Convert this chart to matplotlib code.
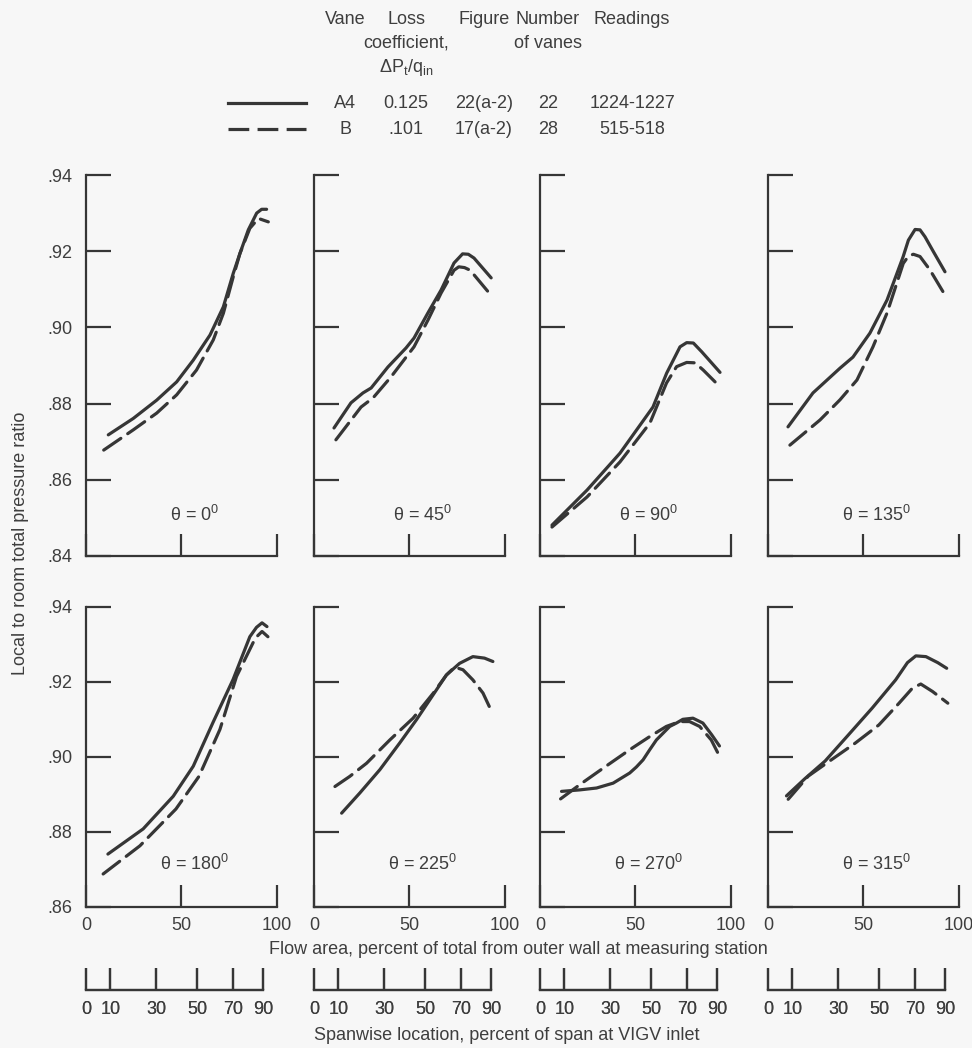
import matplotlib
matplotlib.use('Agg')
import matplotlib.pyplot as plt
from matplotlib.lines import Line2D

FONT = ['Liberation Sans Narrow', 'Liberation Sans', 'DejaVu Sans']
plt.rcParams['font.family'] = FONT
plt.rcParams['mathtext.default'] = 'regular'

INK = '#363636'
TXT = '#3e3e3e'
BG = '#f7f7f7'

# ---------------- data ----------------
angles = ['0', '45', '90', '135', '180', '225', '270', '315']

a4_x = [
    [11.7, 24.8, 37.1, 47.6, 56.3, 65.1, 72.1, 77.3, 80.8, 85.2, 89.6, 92.2, 94.8],
    [10.5, 19.4, 25.7, 30.0, 38.8, 48.3, 52.5, 59.8, 66.7, 73.5, 78.0, 81.0, 84.0, 93.0],
    [6.3, 24.7, 42.0, 59.3, 66.5, 73.5, 77.0, 80.5, 84.9, 94.5],
    [10.5, 23.6, 37.8, 44.6, 53.5, 62.5, 70.9, 73.7, 77.2, 79.8, 82.4, 86.8, 92.9],
    [11.5, 30.0, 45.8, 56.3, 66.7, 77.2, 86.0, 89.5, 92.4, 95.0],
    [14.5, 24.1, 34.6, 45.0, 53.8, 62.5, 69.5, 76.4, 83.4, 89.5, 93.9],
    [11.3, 20.9, 29.7, 38.4, 47.1, 50.6, 54.1, 57.6, 61.1, 64.6, 68.1, 71.6, 75.0,
     80.3, 85.5, 90.1, 94.2],
    [9.7, 19.4, 30.0, 42.3, 54.7, 67.0, 73.2, 77.6, 82.9, 89.1, 93.8],
]
a4_y = [
    [.8718, .8761, .8809, .8857, .8914, .8980, .9054, .9142, .9194, .9256, .9300, .9310, .9310],
    [.8736, .8802, .8828, .8841, .8896, .8946, .8972, .9038, .9098, .9169, .9193, .9192, .9182, .9130],
    [.8481, .8573, .8670, .8791, .8880, .8949, .8960, .8959, .8936, .8882],
    [.8739, .8828, .8893, .8922, .8985, .9072, .9185, .9229, .9257, .9256, .9238, .9199, .9146],
    [.8741, .8808, .8895, .8975, .9092, .9206, .9320, .9345, .9357, .9347],
    [.8850, .8904, .8966, .9037, .9099, .9165, .9218, .9249, .9267, .9263, .9254],
    [.8908, .8912, .8917, .8930, .8957, .8973, .8992, .9019, .9045, .9063, .9081, .9090, .9100,
     .9103, .9090, .9059, .9029],
    [.8896, .8942, .8989, .9059, .9130, .9205, .9251, .9269, .9267, .9251, .9236],
]
b_x = [
    [9.3, 24.8, 37.1, 47.6, 58.0, 66.8, 72.1, 77.3, 80.8, 86.0, 90.5, 95.7],
    [11.5, 24.7, 31.0, 40.4, 52.5, 59.8, 66.7, 73.5, 76.0, 79.0, 82.0, 92.0],
    [6.3, 24.7, 42.0, 57.7, 66.4, 71.7, 77.0, 81.4, 85.7, 91.9],
    [11.5, 27.3, 37.8, 46.7, 55.1, 62.5, 71.0, 73.7, 76.3, 79.8, 85.0, 92.9],
    [9.0, 28.3, 47.2, 59.3, 70.3, 79.0, 87.7, 90.0, 92.4, 95.5],
    [11.0, 18.8, 27.6, 39.8, 52.0, 62.5, 69.5, 73.8, 78.2, 83.4, 88.7, 93.5],
    [10.8, 20.9, 33.2, 47.1, 57.6, 66.3, 73.3, 78.5, 83.8, 89.9, 93.4],
    [10.6, 21.2, 33.5, 45.9, 58.2, 68.8, 75.8, 80.2, 86.4, 94.4],
]
b_y = [
    [.8678, .8731, .8775, .8823, .8888, .8967, .9037, .9133, .9194, .9260, .9286, .9277],
    [.8705, .8791, .8815, .8870, .8949, .9019, .9090, .9150, .9159, .9157, .9150, .9090],
    [.8476, .8555, .8647, .8749, .8854, .8897, .8908, .8907, .8888, .8857],
    [.8691, .8757, .8810, .8862, .8949, .9038, .9168, .9187, .9192, .9186, .9151, .9085],
    [.8688, .8763, .8861, .8948, .9073, .9214, .9304, .9322, .9334, .9320],
    [.8921, .8948, .8983, .9045, .9103, .9169, .9218, .9239, .9232, .9205, .9170, .9118],
    [.8888, .8926, .8970, .9019, .9054, .9081, .9094, .9094, .9081, .9045, .9010],
    [.8887, .8949, .8993, .9037, .9085, .9143, .9183, .9194, .9174, .9143],
]

top_yticks = [.84, .86, .88, .90, .92, .94]
bot_yticks = [.86, .88, .90, .92, .94]
ytick_labels_top = ['.84', '.86', '.88', '.90', '.92', '.94']
ytick_labels_bot = ['.86', '.88', '.90', '.92', '.94']
flow_ticks = [0, 50, 100]
flow_tick_labels = ['0', '50', '100']

span_labels = ['0', '10', '30', '50', '70', '90']
span_as_flow = [0, 12.7, 37.0, 58.5, 77.3, 93.1]

legend_vane = ['A4', 'B']
legend_loss = ['0.125', '.101']
legend_figure = ['22(a-2)', '17(a-2)']
legend_number = ['22', '28']
legend_readings = ['1224-1227', '515-518']

# ---------------- figure ----------------
W, H = 972, 1048
fig = plt.figure(figsize=(W / 100, H / 100), dpi=100, facecolor=BG)

def fx(px):
    return px / W

def fy(py):
    return 1 - py / H

lefts = [86, 314, 540, 768]
pw = 190.5
rows = [(175, 556, (.84, .94), top_yticks, ytick_labels_top),
        (606.7, 907, (.86, .94), bot_yticks, ytick_labels_bot)]

FS = 13
LW = 2.3
SP = 1.6
DASH = (0, (6.5, 2.6))

for i in range(8):
    r, c = divmod(i, 4)
    top, bot, ylim, yt, ytl = rows[r]
    ax = fig.add_axes([fx(lefts[c]), fy(bot), fx(pw), (bot - top) / H])
    ax.set_facecolor('none')
    ax.set_xlim(0, 100)
    ax.set_ylim(*ylim)
    for s in ['top', 'right']:
        ax.spines[s].set_visible(False)
    for s in ['left', 'bottom']:
        ax.spines[s].set_linewidth(SP)
        ax.spines[s].set_color(INK)
    ax.set_yticks(yt)
    if c == 0:
        ax.set_yticklabels(ytl)
    else:
        ax.set_yticklabels([])
    ax.set_xticks(flow_ticks)
    if r == 1:
        ax.set_xticklabels(flow_tick_labels)
    else:
        ax.set_xticklabels([])
    ax.tick_params(axis='y', direction='in', length=18, width=SP, color=INK,
                   pad=10, labelsize=FS, labelcolor=TXT)
    ax.tick_params(axis='x', direction='in', length=16, width=SP, color=INK,
                   pad=7, labelsize=FS, labelcolor=TXT)
    ax.plot(a4_x[i], a4_y[i], color=INK, lw=LW, solid_capstyle='round',
            solid_joinstyle='round')
    ax.plot(b_x[i], b_y[i], color=INK, lw=LW, linestyle=DASH,
            dash_capstyle='round', dash_joinstyle='round')
    ty = 0.8508 if r == 0 else 0.8715
    ax.text(57, ty, r'$\theta$ = ' + angles[i] + r'$^{0}$', ha='center',
            va='center', fontsize=FS, color=TXT)

    # secondary spanwise scale
    sx = fig.add_axes([fx(lefts[c]), fy(990), fx(pw), 0.01])
    sx.set_facecolor('none')
    sx.set_xlim(0, 100)
    sx.set_ylim(0, 1)
    for s in ['top', 'right', 'left']:
        sx.spines[s].set_visible(False)
    sx.spines['bottom'].set_bounds(span_as_flow[0], span_as_flow[-1])
    sx.spines['bottom'].set_linewidth(SP)
    sx.spines['bottom'].set_color(INK)
    sx.set_yticks([])
    sx.set_xticks(span_as_flow)
    sx.set_xticklabels(span_labels)
    sx.tick_params(axis='x', direction='in', length=16, width=SP, color=INK,
                   pad=8, labelsize=FS, labelcolor=TXT)

fig.text(fx(518), fy(950), 'Flow area, percent of total from outer wall at measuring station',
         ha='center', va='center', fontsize=FS, color=TXT)
fig.text(fx(507), fy(1035), 'Spanwise location, percent of span at VIGV inlet',
         ha='center', va='center', fontsize=FS, color=TXT)
fig.text(fx(21), fy(543), 'Local to room total pressure ratio', rotation=90,
         ha='center', va='center', fontsize=FS, color=TXT)

# legend block
cols = [345, 406, 484, 548, 632]
fig.text(fx(cols[0]), fy(19), 'Vane', ha='center', va='center', fontsize=FS, color=TXT)
fig.text(fx(cols[1]), fy(19), 'Loss', ha='center', va='center', fontsize=FS, color=TXT)
fig.text(fx(cols[1]), fy(43), 'coefficient,', ha='center', va='center', fontsize=FS, color=TXT)
fig.text(fx(cols[1]), fy(67), r'$\Delta$P$_{t}$/q$_{in}$', ha='center', va='center',
         fontsize=FS, color=TXT)
fig.text(fx(cols[2]), fy(19), 'Figure', ha='center', va='center', fontsize=FS, color=TXT)
fig.text(fx(cols[3]), fy(19), 'Number', ha='center', va='center', fontsize=FS, color=TXT)
fig.text(fx(cols[3]), fy(43), 'of vanes', ha='center', va='center', fontsize=FS, color=TXT)
fig.text(fx(cols[4]), fy(19), 'Readings', ha='center', va='center', fontsize=FS, color=TXT)

row_y = [103, 129]
styles = ['-', DASH]
for k in range(2):
    yy = fy(row_y[k])
    fig.add_artist(Line2D([fx(228), fx(306)], [yy, yy], transform=fig.transFigure,
                          color=INK, lw=LW, linestyle=styles[k]))
    for cx, val in zip(cols, [legend_vane[k], legend_loss[k], legend_figure[k],
                              legend_number[k], legend_readings[k]]):
        fig.text(fx(cx), yy, val, ha='center', va='center', fontsize=FS, color=TXT)

fig.savefig('out.png', dpi=100, facecolor=BG)
